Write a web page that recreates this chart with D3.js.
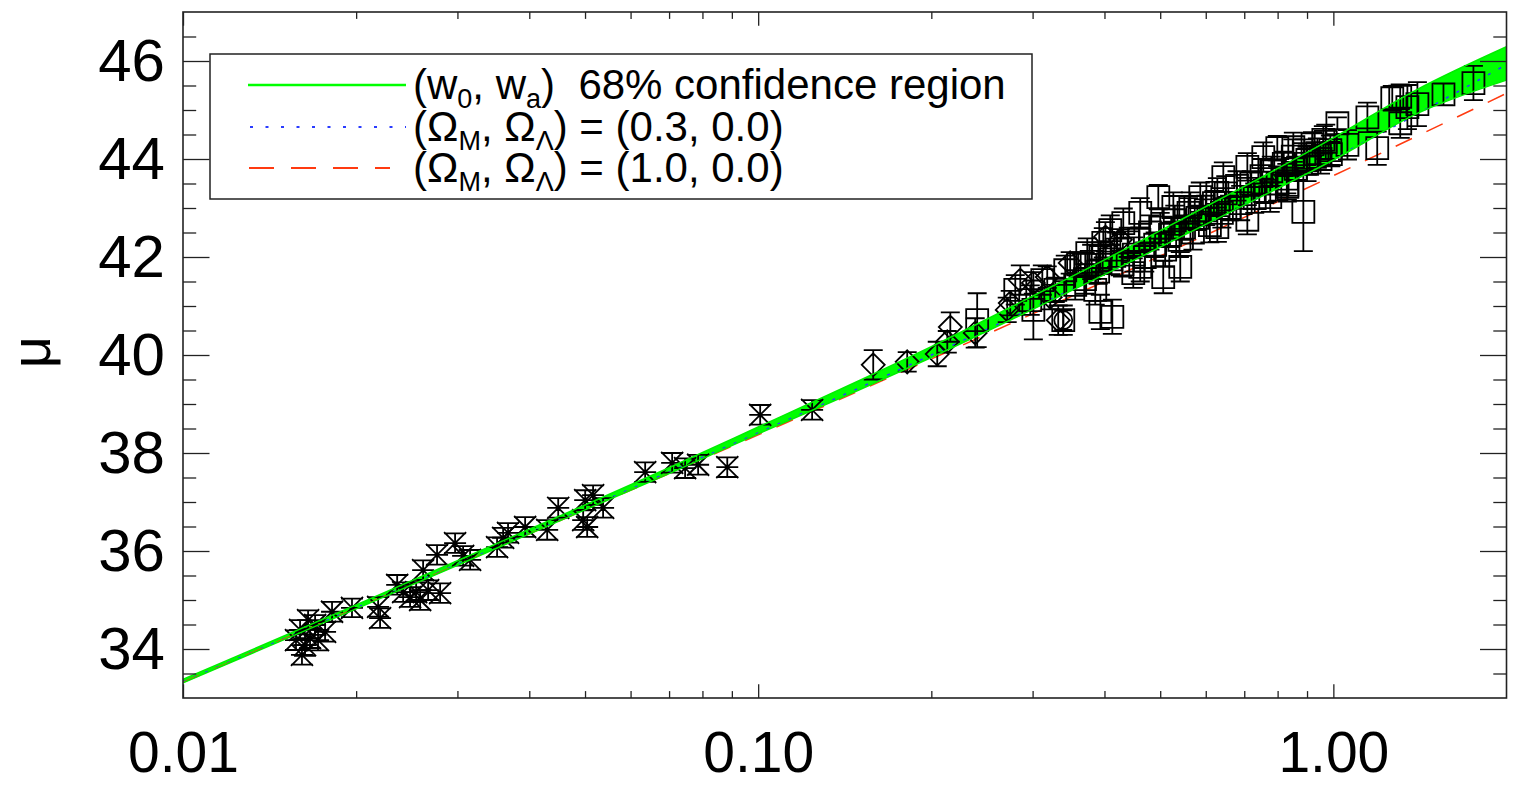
<!DOCTYPE html>
<html><head><meta charset="utf-8">
<script src="https://cdn.jsdelivr.net/npm/d3@7"></script>
<style>
body{margin:0;background:#fff}
svg{display:block}
text{font-family:"Liberation Sans",Arial,Helvetica,sans-serif;fill:#000}
</style>
</head><body>
<svg id="c" width="1523" height="785"></svg>
<script>
// ---------------- data ----------------
// 68% confidence band of the (w0, wa) fits
const bandZ  = [0.01, 0.02, 0.03, 0.05, 0.07, 0.1, 0.15, 0.2, 0.3, 0.4, 0.5, 0.7, 1.0, 1.4, 2.0];
const bandLo = [33.31, 34.82, 35.71, 36.84, 37.58, 38.39, 39.29, 39.95, 40.93, 41.64, 42.20, 43.06, 43.98, 44.93, 45.61];
const bandHi = [33.38, 34.90, 35.80, 36.94, 37.70, 38.53, 39.48, 40.17, 41.20, 41.94, 42.54, 43.44, 44.43, 45.42, 46.29];
// (Om, OL) = (0.3, 0.0) blue dotted, (1.0, 0.0) red dashed
const modelZ   = [0.01, 0.02, 0.03, 0.05, 0.07, 0.1, 0.15, 0.2, 0.3, 0.4, 0.5, 0.7, 1.0, 1.4, 2.0];
const openMu   = [33.33, 34.84, 35.73, 36.86, 37.61, 38.41, 39.33, 40.00, 40.96, 41.65, 42.21, 43.06, 44.01, 44.92, 45.93];
const edsMu    = [33.32, 34.835, 35.72, 36.84, 37.58, 38.37, 39.27, 39.92, 40.84, 41.50, 42.02, 42.81, 43.66, 44.47, 45.34];

// low-z supernovae (asterisks)
const starZ = [0.01598,0.01630,0.01663,0.01697,0.01610,0.01717,0.01766,0.01650,0.01572,0.01816,0.01967,0.02184,0.02201,0.02357,0.02414,0.02482,0.02543,0.02584,0.02668,0.02799,0.02615,0.02765,0.02972,0.03069,0.03156,0.03516,0.03602,0.03674,0.03934,0.04297,0.04491,0.05003,0.05164,0.05375,0.04963,0.05043,0.06361,0.07086,0.07464,0.07863,0.08836,0.1008,0.1241];
const starMu = [34.39,34.08,34.22,34.49,33.88,34.18,34.35,34.59,34.18,34.76,34.84,34.86,34.63,35.31,35.16,35.06,35.16,35.00,35.20,35.14,35.61,35.92,36.16,35.90,35.82,36.08,36.27,36.37,36.49,36.43,36.88,37.04,37.14,36.88,36.63,36.49,37.61,37.80,37.69,37.76,37.71,38.78,38.88];
const starErr = [0.2,0.22,0.2,0.2,0.2,0.21,0.2,0.2,0.2,0.2,0.19,0.2,0.2,0.2,0.2,0.2,0.2,0.2,0.2,0.2,0.2,0.2,0.2,0.2,0.2,0.2,0.2,0.2,0.2,0.2,0.2,0.2,0.2,0.2,0.2,0.2,0.2,0.2,0.2,0.2,0.2,0.2,0.2];

// intermediate-z supernovae (diamonds)
const diaZ   = [0.1585,0.1816,0.2048,0.2132,0.2158,0.2384,0.2710,0.2856,0.3009,0.3220,0.3324,0.3487,0.4015,0.3181,0.2743,0.4263];
const diaMu  = [39.80,39.86,40.02,40.27,40.57,40.45,40.92,41.53,41.47,41.18,40.71,41.88,42.41,41.59,41.06,42.35];
const diaErr = [0.3,0.2,0.25,0.22,0.3,0.3,0.25,0.3,0.22,0.25,0.3,0.22,0.3,0.22,0.25,0.22];

// one circled point
const circZ = [0.3392], circMu = [40.71], circErr = [0.2];

// high-z supernovae (squares)
const sqZ = [0.2403,0.3009,0.3119,0.3392,0.3935,0.4128,0.3734,0.4489,0.4616,0.5061,0.5418,0.4962,0.8868,0.8318,0.7087,0.7554,0.7990,0.8520,0.9607,1.0163,
  0.6437,0.6285,0.5870,0.5640,0.5270,0.4616,0.4313,0.4094,0.3981,0.3935,0.6285,0.7087,0.7768,0.8319,0.9012,0.9380,0.9881,
  1.146,1.192,1.266,1.307,1.345,1.400,1.554,1.752,1.307,1.058,
  0.2799,0.2972,0.3285,0.3419,0.3558,0.3704,0.3855,
  0.36,0.37,0.38,0.39,0.41,0.42,0.43,0.44,0.45,0.46,0.47,0.48,0.49,0.50,0.51,0.52,0.53,0.54,0.55,0.56,0.57,0.58,0.60,0.61,0.62,0.64,0.65,0.66,0.68,0.69,0.72,0.73,0.75,0.76,0.78,0.80,0.82,0.83,0.85,0.86,0.89,0.90,0.92,0.95,0.97,0.99];
const sqMu = [40.71,40.92,41.53,40.71,40.88,40.78,42.08,41.67,41.80,41.59,41.80,43.22,42.92,43.47,43.84,44.04,44.22,44.24,44.39,44.73,
  43.63,43.31,43.22,43.02,43.02,42.90,42.69,42.55,42.29,42.00,42.61,42.76,43.22,43.43,43.98,44.12,44.18,
  44.85,44.22,45.24,45.27,45.06,45.12,45.32,45.55,44.73,44.29,
  41.33,41.12,41.33,41.73,41.43,41.84,41.33,
  41.85,41.55,41.90,41.70,41.95,42.15,41.85,42.30,42.05,42.35,42.00,42.50,42.25,42.60,42.15,42.45,42.75,42.35,42.60,42.90,42.50,42.80,42.95,42.65,43.10,42.90,43.30,43.00,43.45,43.10,43.50,43.20,43.65,43.35,43.75,43.50,43.90,43.60,44.05,43.80,44.10,43.90,44.30,44.00,44.35,44.10];
const sqErr = [0.55,0.6,0.3,0.3,0.35,0.35,0.3,0.3,0.3,0.33,0.3,0.25,0.8,0.3,0.28,0.3,0.25,0.3,0.28,0.12,
  0.3,0.3,0.3,0.3,0.3,0.3,0.3,0.3,0.3,0.3,0.3,0.3,0.3,0.3,0.3,0.3,0.3,
  0.3,0.34,0.25,0.25,0.45,0.45,0.22,0.35,0.3,0.3,
  0.3,0.3,0.25,0.3,0.3,0.25,0.3,
  0.25,0.3,0.35,0.25,0.3,0.35,0.25,0.3,0.35,0.25,0.3,0.35,0.25,0.3,0.35,0.25,0.3,0.35,0.25,0.3,0.35,0.25,0.3,0.35,0.25,0.3,0.35,0.25,0.3,0.35,0.25,0.3,0.35,0.25,0.3,0.35,0.25,0.3,0.35,0.25,0.3,0.35,0.25,0.3,0.35,0.25];

// axes
const xMajor = [0.01, 0.1, 1];
const xLabels = ["0.01", "0.10", "1.00"];
const xMinor = [0.02,0.03,0.04,0.05,0.06,0.07,0.08,0.09,0.2,0.3,0.4,0.5,0.6,0.7,0.8,0.9];
const yMajor = [34, 36, 38, 40, 42, 44, 46];
const yMinor = [33.5,34.5,35,35.5,36.5,37,37.5,38.5,39,39.5,40.5,41,41.5,42.5,43,43.5,44.5,45,45.5,46.5];
const yTitle = "μ";

// ---------------- drawing ----------------
const svg = d3.select("#c");
const L = 183, R = 1506.5, T = 12, B = 698;
const x = d3.scaleLog().domain([0.01, 2.0]).range([L, R]);
const y = d3.scaleLinear().domain([33, 47]).range([B, T]);

svg.append("defs").append("clipPath").attr("id", "clip")
  .append("rect").attr("x", L).attr("y", T).attr("width", R - L).attr("height", B - T);
const plot = svg.append("g").attr("clip-path", "url(#clip)");

const band = bandZ.map((z, i) => ({z, lo: bandLo[i], hi: bandHi[i]}));
plot.append("path").datum(band)
  .attr("d", d3.area().x(d => x(d.z)).y0(d => y(d.lo)).y1(d => y(d.hi)).curve(d3.curveMonotoneX))
  .attr("fill", "#00ff00");

const line = d3.line().x(d => x(d[0])).y(d => y(d[1])).curve(d3.curveMonotoneX);
plot.append("path").datum(d3.zip(modelZ, openMu)).attr("d", line)
  .attr("fill", "none").attr("stroke", "#2a3cff").attr("stroke-width", 1.6).attr("stroke-dasharray", "3,9");
plot.append("path").datum(d3.zip(modelZ, edsMu)).attr("d", line)
  .attr("fill", "none").attr("stroke", "#ff3a10").attr("stroke-width", 1.5).attr("stroke-dasharray", "18,16");

function pts(zs, ms, es) { return zs.map((z, i) => ({z, m: ms[i], e: es[i]})); }
function errPath(d, w) {
  const cx = x(d.z), y1 = y(d.m + d.e), y2 = y(d.m - d.e);
  return `M${cx},${y1}L${cx},${y2}M${cx - w},${y1}L${cx + w},${y1}M${cx - w},${y2}L${cx + w},${y2}`;
}
const mk = plot.append("g").attr("fill", "none").attr("stroke", "#000").attr("stroke-width", 1.8);

// squares
mk.selectAll(".sq").data(pts(sqZ, sqMu, sqErr)).enter().append("path")
  .attr("d", d => { const cx = x(d.z), cy = y(d.m), r = 11;
    return `M${cx - r},${cy - r}h${2 * r}v${2 * r}h${-2 * r}Z` + errPath(d, 9.5); });
// diamonds
mk.selectAll(".dm").data(pts(diaZ, diaMu, diaErr)).enter().append("path")
  .attr("d", d => { const cx = x(d.z), cy = y(d.m), r = 11.5;
    return `M${cx},${cy - r}L${cx + r},${cy}L${cx},${cy + r}L${cx - r},${cy}Z` + errPath(d, 9.5); });
// circle
mk.selectAll(".ci").data(pts(circZ, circMu, circErr)).enter().append("path")
  .attr("d", d => { const cx = x(d.z), cy = y(d.m), r = 9;
    return `M${cx - r},${cy}a${r},${r} 0 1,0 ${2 * r},0a${r},${r} 0 1,0 ${-2 * r},0` + errPath(d, 9); });
// asterisks
mk.selectAll(".st").data(pts(starZ, starMu, starErr)).enter().append("path")
  .attr("d", d => { const cx = x(d.z), cy = y(d.m), r = 11;
    return `M${cx - r},${cy}L${cx + r},${cy}M${cx - r},${cy - r}L${cx + r},${cy + r}M${cx - r},${cy + r}L${cx + r},${cy - r}` + errPath(d, 11); });

// band edges over the points
plot.append("path").datum(band).attr("d", d3.line().x(d => x(d.z)).y(d => y(d.hi)).curve(d3.curveMonotoneX))
  .attr("fill", "none").attr("stroke", "#00ee00").attr("stroke-width", 1.5);
plot.append("path").datum(band).attr("d", d3.line().x(d => x(d.z)).y(d => y(d.lo)).curve(d3.curveMonotoneX))
  .attr("fill", "none").attr("stroke", "#00ee00").attr("stroke-width", 1.5);

// axes
function styleAxis(g, fs) { g.select(".domain").remove(); g.selectAll("line").attr("stroke", "#222").attr("stroke-width", 1.3);
  g.selectAll("text").attr("font-size", fs || 60).attr("font-family", '"Liberation Sans",Arial,sans-serif').attr("fill", "#000"); }
const xFmt = v => xLabels[xMajor.indexOf(v)];
svg.append("g").attr("transform", `translate(0,${B})`)
  .call(d3.axisBottom(x).tickValues(xMajor).tickFormat(xFmt).tickSizeInner(-13.7).tickSizeOuter(0).tickPadding(34)).call(styleAxis, 57);
svg.append("g").attr("transform", `translate(0,${B})`)
  .call(d3.axisBottom(x).tickValues(xMinor).tickFormat("").tickSizeInner(-6.9).tickSizeOuter(0)).call(styleAxis);
svg.append("g").attr("transform", `translate(0,${T})`)
  .call(d3.axisTop(x).tickValues(xMajor).tickFormat("").tickSizeInner(-13.7).tickSizeOuter(0)).call(styleAxis);
svg.append("g").attr("transform", `translate(0,${T})`)
  .call(d3.axisTop(x).tickValues(xMinor).tickFormat("").tickSizeInner(-6.9).tickSizeOuter(0)).call(styleAxis);
svg.append("g").attr("transform", `translate(${L},0)`)
  .call(d3.axisLeft(y).tickValues(yMajor).tickFormat(d3.format("d")).tickSizeInner(-26.5).tickSizeOuter(0).tickPadding(18)).call(styleAxis);
svg.append("g").attr("transform", `translate(${L},0)`)
  .call(d3.axisLeft(y).tickValues(yMinor).tickFormat("").tickSizeInner(-13.2).tickSizeOuter(0)).call(styleAxis);
svg.append("g").attr("transform", `translate(${R},0)`)
  .call(d3.axisRight(y).tickValues(yMajor).tickFormat("").tickSizeInner(-26.5).tickSizeOuter(0)).call(styleAxis);
svg.append("g").attr("transform", `translate(${R},0)`)
  .call(d3.axisRight(y).tickValues(yMinor).tickFormat("").tickSizeInner(-13.2).tickSizeOuter(0)).call(styleAxis);

svg.append("rect").attr("x", L).attr("y", T).attr("width", R - L).attr("height", B - T)
  .attr("fill", "none").attr("stroke", "#222").attr("stroke-width", 1.6);

svg.append("text").attr("transform", "translate(50,352) rotate(-90)").attr("text-anchor", "middle")
  .attr("font-size", 56).text(yTitle);

// legend
const lg = svg.append("g");
lg.append("rect").attr("x", 210).attr("y", 54).attr("width", 822).attr("height", 145)
  .attr("fill", "#fff").attr("stroke", "#222").attr("stroke-width", 1.5);
lg.append("line").attr("x1", 248).attr("x2", 406).attr("y1", 85).attr("y2", 85).attr("stroke", "#00ff00").attr("stroke-width", 2.5);
lg.append("line").attr("x1", 250).attr("x2", 406).attr("y1", 127).attr("y2", 127).attr("stroke", "#2a3cff").attr("stroke-width", 2).attr("stroke-dasharray", "3,12.5");
lg.append("line").attr("x1", 249).attr("x2", 390).attr("y1", 168).attr("y2", 168).attr("stroke", "#ff3a10").attr("stroke-width", 2).attr("stroke-dasharray", "25,17");

const legRows = [
  [["(w", 0], ["0", 1], [", w", 0], ["a", 1], [")\u00a0\u00a068% confidence region", 0]],
  [["(Ω", 0], ["M", 1], [", Ω", 0], ["Λ", 1], [") = (0.3, 0.0)", 0]],
  [["(Ω", 0], ["M", 1], [", Ω", 0], ["Λ", 1], [") = (1.0, 0.0)", 0]]
];
const legY = [99, 141, 182];
legRows.forEach((row, i) => {
  const t = lg.append("text").attr("x", 413).attr("y", legY[i]).attr("font-size", 42);
  let prev = 0;
  row.forEach(([s, sub]) => {
    const dy = (sub - prev) * 9; prev = sub;
    t.append("tspan").attr("dy", dy).attr("font-size", sub ? 27 : 42).text(s);
  });
});
</script>
</body></html>
